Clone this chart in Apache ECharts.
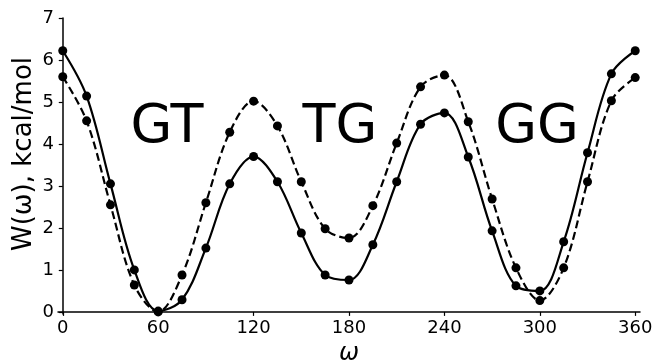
<!DOCTYPE html>
<html>
<head>
<meta charset="utf-8">
<script src="https://cdn.jsdelivr.net/npm/echarts@6/dist/echarts.min.js"></script>
<style>
  html, body { margin: 0; padding: 0; background: #fff; }
  #chart { width: 654px; height: 362px; }
</style>
</head>
<body>
<div id="chart"></div>
<script>
// torsion angle omega, degrees
const omega = [0, 15, 30, 45, 60, 75, 90, 105, 120, 135, 150, 165, 180,
  195, 210, 225, 240, 255, 270, 285, 300, 315, 330, 345, 360]
// solid curve
const solidW = [6.22, 5.14, 3.05, 1.0, 0.02, 0.29, 1.52, 3.05, 3.7, 3.1, 1.88, 0.88, 0.76,
  1.6, 3.1, 4.47, 4.74, 3.69, 1.93, 0.62, 0.5, 1.67, 3.79, 5.67, 6.22]
// dashed curve
const dashedW = [5.6, 4.55, 2.55, 0.64, 0.0, 0.88, 2.6, 4.28, 5.02, 4.43, 3.1, 1.98, 1.76,
  2.53, 4.02, 5.36, 5.64, 4.53, 2.69, 1.05, 0.27, 1.05, 3.1, 5.03, 5.58]
const xTicks = [0, 60, 120, 180, 240, 300, 360]
const yTicks = [0, 1, 2, 3, 4, 5, 6, 7]
const regionLabels = ['GT', 'TG', 'GG']

const chart = echarts.init(document.getElementById('chart'))
const font = 'DejaVu Sans'

const makeSeries = (values, lineType) => ({
  type: 'line',
  data: omega.map((x, i) => [x, values[i]]),
  smooth: 0.35,
  symbol: 'circle',
  symbolSize: 9,
  itemStyle: { color: '#000' },
  lineStyle: { color: '#000', width: 2.2, type: lineType },
  emphasis: { disabled: true },
  z: 3
})

const labelX = [167, 340, 537]

chart.setOption({
  animation: false,
  grid: { left: 58, right: 14, top: 18, bottom: 48, outerBoundsMode: 'none' },
  xAxis: {
    type: 'value',
    min: -3,
    max: 363,
    name: 'ω',
    nameLocation: 'middle',
    nameGap: 38,
    nameTextStyle: { fontFamily: font, fontSize: 24, fontStyle: 'italic', color: '#000', verticalAlign: 'middle' },
    axisLine: { lineStyle: { color: '#000', width: 1.5 } },
    axisTick: { show: true, length: 4, customValues: xTicks, lineStyle: { color: '#000', width: 1.2 } },
    axisLabel: { customValues: xTicks, fontFamily: font, fontSize: 18, color: '#000', margin: 5 },
    splitLine: { show: false }
  },
  yAxis: {
    type: 'value',
    min: -0.05,
    max: 7,
    axisLine: { show: true, lineStyle: { color: '#000', width: 1.5 } },
    axisTick: { show: true, length: 4, customValues: yTicks, lineStyle: { color: '#000', width: 1.2 } },
    axisLabel: { customValues: yTicks, fontFamily: font, fontSize: 18, color: '#000', margin: 4 },
    splitLine: { show: false }
  },
  graphic: [
    // y axis title, sits a bit above the plot centre like in the source figure
    {
      type: 'text',
      x: 24,
      y: 154,
      rotation: Math.PI / 2,
      style: {
        text: 'W(ω), kcal/mol',
        fontFamily: font,
        fontSize: 26,
        fill: '#000',
        align: 'center',
        verticalAlign: 'middle'
      }
    },
    ...regionLabels.map((t, i) => ({
      type: 'text',
      x: labelX[i],
      y: 128,
      style: {
        text: t,
        fontFamily: font,
        fontSize: 54,
        fill: '#000',
        align: 'center',
        verticalAlign: 'middle'
      }
    }))
  ],
  series: [makeSeries(solidW, 'solid'), makeSeries(dashedW, [8, 4])]
})
</script>
</body>
</html>
